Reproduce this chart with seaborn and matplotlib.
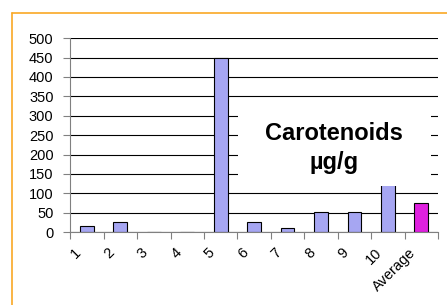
import numpy as np
import pandas as pd
import seaborn as sns
import matplotlib.pyplot as plt
from matplotlib.lines import Line2D
from matplotlib.patches import Rectangle
from matplotlib.transforms import ScaledTranslation

samples = ['1', '2', '3', '4', '5', '6', '7', '8', '9', '10', 'Average']
carotenoids = [16, 26, 0, 0, 450, 26, 11, 53, 53, 125, 76]
bar_colors = ['#9999FF'] * 10 + ['#FF00FF']
y_ticks = [0, 50, 100, 150, 200, 250, 300, 350, 400, 450, 500]


def main():
    sns.set_theme(style='white')
    plt.rcParams['font.family'] = ['Liberation Sans', 'DejaVu Sans']

    df = pd.DataFrame({'sample': samples, 'value': carotenoids})

    fig = plt.figure(figsize=(4.47, 3.05), dpi=100)
    ax = fig.add_axes([0.157, 0.239, 0.823, 0.636])

    sns.barplot(
        data=df,
        x='sample',
        y='value',
        hue='sample',
        palette=dict(zip(samples, bar_colors)),
        width=0.41,
        edgecolor='black',
        linewidth=0.8,
        legend=False,
        ax=ax,
    )

    ax.set_xlim(-0.5, len(samples) - 0.5)
    ax.set_ylim(0, 500)
    ax.set_yticks(y_ticks)
    ax.yaxis.grid(True, color='black', linewidth=0.8)
    ax.set_axisbelow(True)
    ax.set_xlabel('')
    ax.set_ylabel('')

    # category boundaries get the tick marks, labels sit under the bars
    ax.set_xticks(np.arange(len(samples)))
    ax.set_xticks(np.arange(len(samples) + 1) - 0.5, minor=True)
    ax.tick_params(axis='x', which='major', length=0, pad=13, labelsize=10.5, labelcolor='black')
    ax.tick_params(axis='x', which='minor', length=5, width=0.8, color='#808080', bottom=True)
    ax.tick_params(axis='y', length=5, width=0.8, color='#808080', left=True,
                   labelsize=10.5, labelcolor='black', pad=7)
    shift = ScaledTranslation(-0.08, 0, fig.dpi_scale_trans)
    for lab in ax.get_xticklabels():
        lab.set_rotation(45)
        lab.set_ha('right')
        lab.set_va('center')
        lab.set_rotation_mode('anchor')
        lab.set_transform(lab.get_transform() + shift)

    for side in ['top', 'right']:
        ax.spines[side].set_visible(False)
    for side in ['left', 'bottom']:
        ax.spines[side].set_color('#808080')
        ax.spines[side].set_linewidth(0.8)

    # white label box covering the grid
    ax.add_patch(Rectangle((4.52, 119), 5.77, 215, facecolor='white', edgecolor='none', zorder=5))
    ax.text(7.4, 216, 'Carotenoids\nµg/g', ha='center', va='center', fontsize=17,
            fontweight='bold', linespacing=1.35, color='black', zorder=6)

    # orange slide frame
    fig.add_artist(Line2D([12 / 447, 12 / 447], [0, 1 - 13 / 305], color='#F9A825', linewidth=1.2))
    fig.add_artist(Line2D([12 / 447, 1], [1 - 13 / 305, 1 - 13 / 305], color='#F9A825', linewidth=1.2))

    fig.savefig('out.png', dpi=100)


if __name__ == '__main__':
    main()
